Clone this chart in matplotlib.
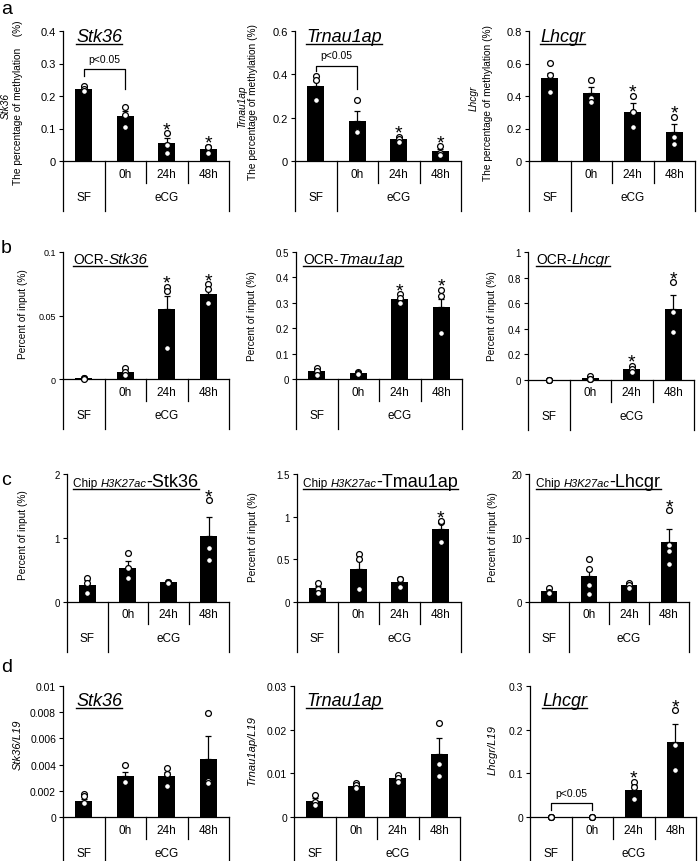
import numpy as np
import matplotlib
matplotlib.use('Agg')
import matplotlib.pyplot as plt
from matplotlib.lines import Line2D

plt.rcParams['font.family'] = ['Liberation Sans', 'DejaVu Sans']

W, H = 698, 862
groups = ['SF', '0h', '24h', '48h']
time_labels = ['0h', '24h', '48h']

# ---- a: methylation ----
a_stk36_mean = [0.222, 0.137, 0.054, 0.038]
a_stk36_err = [0.007, 0.017, 0.016, 0.004]
a_stk36_pts = [[0.230, 0.222, 0.214], [0.165, 0.141, 0.105], [0.085, 0.050, 0.024], [0.044, 0.043, 0.026]]
a_trn_mean = [0.347, 0.185, 0.100, 0.044]
a_trn_err = [0.022, 0.045, 0.008, 0.010]
a_trn_pts = [[0.393, 0.375, 0.281], [0.280, 0.140, 0.135], [0.113, 0.100, 0.087], [0.067, 0.037, 0.028]]
a_lh_mean = [0.513, 0.416, 0.304, 0.180]
a_lh_err = [0.031, 0.037, 0.055, 0.046]
a_lh_pts = [[0.601, 0.527, 0.427], [0.498, 0.386, 0.365], [0.402, 0.300, 0.211], [0.273, 0.146, 0.105]]

# ---- b: OCR ----
b_stk36_mean = [0.0005, 0.0055, 0.0555, 0.0673]
b_stk36_err = [0.0002, 0.0008, 0.0099, 0.0035]
b_stk36_pts = [[0.0008, 0.0005, 0.0002], [0.0084, 0.0052, 0.0030], [0.0728, 0.0694, 0.0243], [0.0746, 0.0710, 0.0597]]
b_trn_mean = [0.030, 0.024, 0.314, 0.284]
b_trn_err = [0.007, 0.003, 0.010, 0.030]
b_trn_pts = [[0.042, 0.030, 0.017], [0.029, 0.023, 0.020], [0.334, 0.318, 0.300], [0.351, 0.327, 0.181]]
b_lh_mean = [0.0, 0.013, 0.086, 0.556]
b_lh_err = [0.0, 0.006, 0.010, 0.110]
b_lh_pts = [[0.003, 0.002, 0.001], [0.028, 0.005, 0.006], [0.110, 0.085, 0.065], [0.765, 0.535, 0.373]]

# ---- c: ChIP H3K27ac ----
c_stk36_mean = [0.269, 0.537, 0.310, 1.028]
c_stk36_err = [0.07, 0.11, 0.01, 0.30]
c_stk36_pts = [[0.382, 0.295, 0.140], [0.765, 0.527, 0.372], [0.320, 0.310, 0.300], [1.587, 0.848, 0.656]]
c_trn_mean = [0.159, 0.385, 0.238, 0.861]
c_trn_err = [0.03, 0.11, 0.03, 0.08]
c_trn_pts = [[0.218, 0.150, 0.111], [0.563, 0.508, 0.151], [0.266, 0.270, 0.180], [0.933, 0.945, 0.706]]
c_lh_mean = [1.75, 4.06, 2.67, 9.30]
c_lh_err = [0.3, 1.1, 0.3, 2.1]
c_lh_pts = [[2.26, 1.60, 1.39], [6.79, 5.14, 2.67, 1.29], [3.03, 2.70, 2.26], [14.3, 8.9, 7.97, 5.86]]

# ---- d: expression / L19 ----
d_stk36_mean = [0.0012, 0.0031, 0.0031, 0.0044]
d_stk36_err = [0.00018, 0.00035, 0.00030, 0.00175]
d_stk36_pts = [[0.00175, 0.00160, 0.00110], [0.00395, 0.00270, 0.00265], [0.00375, 0.00330, 0.00240], [0.00795, 0.00275, 0.00260]]
d_trn_mean = [0.0037, 0.0071, 0.0089, 0.0144]
d_trn_err = [0.0007, 0.0004, 0.0005, 0.0037]
d_trn_pts = [[0.0051, 0.0034, 0.0027], [0.0079, 0.0073, 0.0066], [0.0097, 0.0090, 0.0080], [0.0216, 0.0121, 0.0095]]
d_lh_mean = [0.0, 0.0005, 0.062, 0.171]
d_lh_err = [0.0, 0.0002, 0.011, 0.041]
d_lh_pts = [[0.0003, 0.0002, 0.0001], [0.0006, 0.0004, 0.0005], [0.081, 0.068, 0.041], [0.245, 0.164, 0.108]]

stars_late = [False, False, True, True]

fig = plt.figure(figsize=(W / 100, H / 100), dpi=100)
renderer = fig.canvas.get_renderer()
TABLE_H = 50


def fx(px):
    return px / W


def fy(py):
    return 1 - py / H


def draw_panel(left, top, width, zero, mean, err, pts, star, ticks, tick_fs):
    ax = fig.add_axes([fx(left), fy(zero), width / W, (zero - top) / H])
    x = np.arange(4)
    ax.bar(x, mean, width=0.41, color='black', zorder=2)
    ax.errorbar(x, mean, yerr=[np.zeros(4), err], fmt='none', ecolor='black',
                elinewidth=0.9, capsize=2.5, capthick=0.9, zorder=3)
    for i, p in enumerate(pts):
        ax.plot([i] * len(p), p, 'o', ms=4.2, mfc='white', mec='black', mew=0.9,
                zorder=4, clip_on=False)
        if star[i]:
            ytop = max(max(p), mean[i] + err[i])
            ax.annotate('*', (i, ytop), xytext=(0, 2.5), textcoords='offset points',
                        ha='center', va='center', fontsize=14)
    ax.set_xlim(-0.5, 3.5)
    ax.set_ylim(0, ticks[-1])
    ax.set_yticks(ticks)
    ax.set_yticklabels([f'{t:g}' for t in ticks], fontsize=tick_fs)
    ax.set_xticks([])
    ax.spines[['top', 'right']].set_visible(False)
    ax.spines['left'].set_linewidth(0.9)
    ax.spines['bottom'].set_linewidth(0.9)
    ax.tick_params(axis='y', length=3, width=0.8, pad=2)
    ax.patch.set_alpha(0)

    # category table under the axis
    tb = fig.add_axes([fx(left), fy(zero + TABLE_H), width / W, TABLE_H / H])
    tb.set_xlim(-0.5, 3.5)
    tb.set_ylim(TABLE_H, 0)
    tb.axis('off')
    for xv in [-0.5, 0.5, 3.5]:
        tb.plot([xv, xv], [0, TABLE_H], color='black', lw=0.9, clip_on=False)
    for xv in [1.5, 2.5]:
        tb.plot([xv, xv], [0, 22], color='black', lw=0.9, clip_on=False)
    for i, lab in enumerate(time_labels):
        tb.text(i + 1, 12.5, lab, ha='center', va='center', fontsize=8.5)
    tb.text(0, 36, 'SF', ha='center', va='center', fontsize=8.5)
    tb.text(2, 36, 'eCG', ha='center', va='center', fontsize=8.5)
    return ax


def bracket(ax, y_top, y_left, y_right, y_text):
    ax.plot([0, 0, 1, 1], [y_left, y_top, y_top, y_right], color='black', lw=0.9, zorder=5)
    ax.text(0.5, y_text, 'p<0.05', ha='center', va='center', fontsize=7.5)


def title(x_px, base_px, pieces):
    x = x_px
    for s, size, style in pieces:
        t = fig.text(fx(x), fy(base_px), s, fontsize=size, style=style,
                     ha='left', va='baseline')
        x += t.get_window_extent(renderer).width
    fig.add_artist(Line2D([fx(x_px), fx(x)], [fy(base_px + 2.5)] * 2,
                          color='black', lw=1))


def ylab(x_px, y_px, s, size=7.3, style='normal'):
    fig.text(fx(x_px), fy(y_px), s, rotation=90, ha='center', va='center',
             fontsize=size, style=style)


# ---- row a ----
ax = draw_panel(63, 32, 166, 162, a_stk36_mean, a_stk36_err, a_stk36_pts, stars_late,
                [0, 0.1, 0.2, 0.3, 0.4], 8)
bracket(ax, 0.283, 0.263, 0.222, 0.315)
ax = draw_panel(295, 32, 166, 162, a_trn_mean, a_trn_err, a_trn_pts, stars_late,
                [0, 0.2, 0.4, 0.6], 8)
bracket(ax, 0.440, 0.417, 0.334, 0.487)
draw_panel(529, 32, 166, 162, a_lh_mean, a_lh_err, a_lh_pts, stars_late,
           [0, 0.2, 0.4, 0.6, 0.8], 8)
title(76, 42, [('Stk36', 13, 'italic')])
title(306, 42, [('Trnau1ap', 13, 'italic')])
title(540, 42, [('Lhcgr', 13, 'italic')])
ylab(6, 106, 'Stk36', style='italic')
ylab(18, 103, 'The percentage of methylation    (%)')
ylab(242, 107, 'Trnau1ap', style='italic')
ylab(253, 102, 'The percentage of methylation (%)')
ylab(474, 98, 'Lhcgr', style='italic')
ylab(488, 103, 'The percentage of methylation (%)')

# ---- row b ----
draw_panel(63, 253, 166, 380, b_stk36_mean, b_stk36_err, b_stk36_pts, stars_late,
           [0, 0.05, 0.1], 6.5)
draw_panel(296, 253, 166, 380, b_trn_mean, b_trn_err, b_trn_pts, stars_late,
           [0, 0.1, 0.2, 0.3, 0.4, 0.5], 7)
draw_panel(528, 253, 166, 381, b_lh_mean, b_lh_err, b_lh_pts, stars_late,
           [0, 0.2, 0.4, 0.6, 0.8, 1], 7)
title(73, 264, [('OCR-', 10, 'normal'), ('Stk36', 11, 'italic')])
title(303, 264, [('OCR-', 10, 'normal'), ('Tmau1ap', 11, 'italic')])
title(536, 264, [('OCR-', 10, 'normal'), ('Lhcgr', 11, 'italic')])
ylab(23, 314, 'Percent of input (%)')
ylab(252, 316, 'Percent of input (%)')
ylab(492, 316, 'Percent of input (%)')

# ---- row c ----
draw_panel(67, 475, 162, 603, c_stk36_mean, c_stk36_err, c_stk36_pts, [False, False, False, True],
           [0, 1, 2], 7)
draw_panel(297, 475, 164, 603, c_trn_mean, c_trn_err, c_trn_pts, [False, False, False, True],
           [0, 0.5, 1, 1.5], 7)
draw_panel(529, 475, 160, 603, c_lh_mean, c_lh_err, c_lh_pts, [False, False, False, True],
           [0, 10, 20], 7)
title(73, 487, [('Chip ', 8.5, 'normal'), ('H3K27ac', 8, 'italic'), ('-Stk36', 13, 'normal')])
title(303, 487, [('Chip ', 8.5, 'normal'), ('H3K27ac', 8, 'italic'), ('-Tmau1ap', 13, 'normal')])
title(536, 487, [('Chip ', 8.5, 'normal'), ('H3K27ac', 8, 'italic'), ('-Lhcgr', 13, 'normal')])
ylab(23, 535, 'Percent of input (%)')
ylab(253, 537, 'Percent of input (%)')
ylab(493, 537, 'Percent of input (%)')

# ---- row d ----
draw_panel(63, 687, 166, 818, d_stk36_mean, d_stk36_err, d_stk36_pts, [False] * 4,
           [0, 0.002, 0.004, 0.006, 0.008, 0.01], 7.5)
draw_panel(294, 687, 166, 818, d_trn_mean, d_trn_err, d_trn_pts, [False] * 4,
           [0, 0.01, 0.02, 0.03], 7.5)
ax = draw_panel(530, 687, 166, 818, d_lh_mean, d_lh_err, d_lh_pts, stars_late,
                [0, 0.1, 0.2, 0.3], 7.5)
bracket(ax, 0.033, 0.016, 0.016, 0.056)
title(76, 706, [('Stk36', 13, 'italic')])
title(306, 706, [('Trnau1ap', 13, 'italic')])
title(542, 706, [('Lhcgr', 13, 'italic')])
ylab(18, 745, 'Stk36/L19', size=8, style='italic')
ylab(252, 751, 'Trnau1ap/L19', size=8, style='italic')
ylab(493, 750, 'Lhcgr/L19', size=8, style='italic')

# panel letters
for letter, base in [('a', 14), ('b', 253), ('c', 485), ('d', 672)]:
    fig.text(fx(1), fy(base), letter, fontsize=14, ha='left', va='baseline')

fig.savefig('out.png', dpi=100)
